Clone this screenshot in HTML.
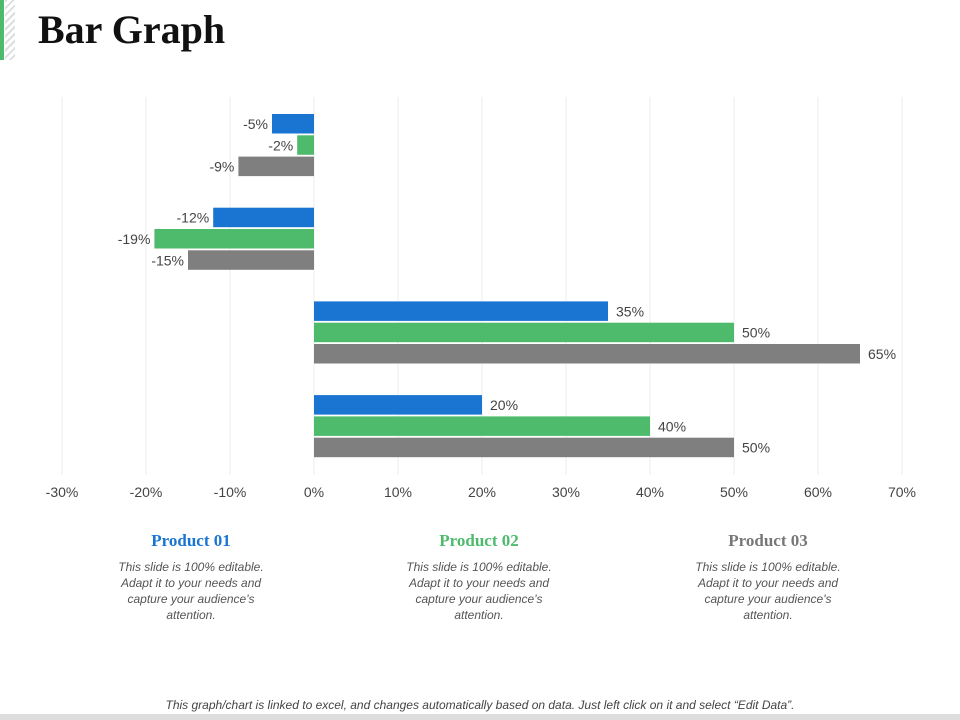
<!DOCTYPE html>
<html><head><meta charset="utf-8"><style>
body{margin:0;width:960px;height:720px;background:#fff;position:relative;overflow:hidden;font-family:"Liberation Sans",sans-serif}
.t{position:absolute;font-family:"Liberation Serif",serif;font-weight:bold}
.d{position:absolute;width:160px;text-align:center;font-style:italic;font-size:12px;line-height:16px;color:#555}
</style></head><body>
<div style="position:absolute;left:0;top:0;width:4px;height:60px;background:#4dbb6b"></div>
<div style="position:absolute;left:5px;top:0;width:10px;height:60px;background:repeating-linear-gradient(135deg,#ddd 0 2px,#fff 2px 5px)"></div>
<div class="t" style="left:38px;top:6px;font-size:40px;color:#111">Bar Graph</div>
<svg id="chart" width="960" height="510" style="position:absolute;left:0;top:0"></svg>
<div class="t" style="left:111px;top:531px;width:160px;text-align:center;font-size:17px;color:#1a75d2">Product 01</div>
<div class="d" style="left:111px;top:559px">This slide is 100% editable. Adapt it to your needs and capture your audience's attention.</div>
<div class="t" style="left:399px;top:531px;width:160px;text-align:center;font-size:17px;color:#4dbb6b">Product 02</div>
<div class="d" style="left:399px;top:559px">This slide is 100% editable. Adapt it to your needs and capture your audience's attention.</div>
<div class="t" style="left:688px;top:531px;width:160px;text-align:center;font-size:17px;color:#777">Product 03</div>
<div class="d" style="left:688px;top:559px">This slide is 100% editable. Adapt it to your needs and capture your audience's attention.</div>
<div class="d" style="left:0;width:960px;top:697px;font-size:12px;color:#444">This graph/chart is linked to excel, and changes automatically based on data. Just left click on it and select “Edit Data”.</div>
<div style="position:absolute;left:0;top:714px;width:960px;height:6px;background:#ddd"></div>
<script>
const categories=["Group 1","Group 2","Group 3","Group 4"];
const product01=[-5,-12,35,20];
const product02=[-2,-19,50,40];
const product03=[-9,-15,65,50];
const ticks=[-30,-20,-10,0,10,20,30,40,50,60,70];
const svg=document.getElementById('chart');
const NS='http://www.w3.org/2000/svg';
const x=v=>314+v*8.4;
const series=[product01,product02,product03];
const colors=['#1a75d2','#4dbb6b','#7f7f7f'];
function mk(t,a){const e=document.createElementNS(NS,t);for(const k in a)e.setAttribute(k,a[k]);svg.appendChild(e);return e;}
ticks.forEach(t=>{
 const l=mk('line',{x1:x(t),x2:x(t),y1:97,y2:475,stroke:'#ececec','stroke-width':1});
 
 
 const tx=mk('text',{x:x(t),y:497,'text-anchor':'middle','font-size':14,fill:'#444','font-family':'Liberation Sans, sans-serif'});
 tx.textContent=t+'%';
 
 
});
categories.forEach((c,i)=>{
 series.forEach((s,j)=>{
  const v=s[i];const y0=114+i*93.7+j*21.3;
  const r=mk('rect',{x:Math.min(x(0),x(v)),y:y0,width:Math.abs(x(v)-x(0)),height:19.5,fill:colors[j]});
  
  
  const tx=mk('text',{x:v<0?x(v)-4:x(v)+8,y:y0+15,'text-anchor':v<0?'end':'start','font-size':14,fill:'#444','font-family':'Liberation Sans, sans-serif'});
  tx.textContent=v+'%';
  
  
 });
});
</script>
</body></html>
